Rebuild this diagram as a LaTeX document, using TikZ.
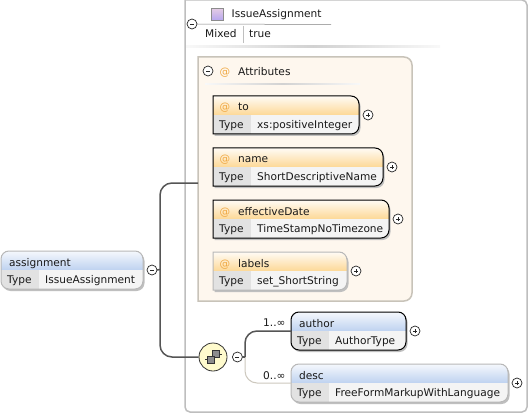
\documentclass[tikz,border=0pt]{standalone}
\usepackage{fontspec}
\setmainfont{DejaVu Sans}
\usetikzlibrary{positioning}

\definecolor{framegray}{RGB}{190,190,190}
\definecolor{darkline}{RGB}{85,85,85}
\definecolor{paleline}{RGB}{205,200,190}
\definecolor{attrfill}{RGB}{254,247,238}
\definecolor{attredge}{RGB}{200,195,185}
\definecolor{blueh}{RGB}{190,210,240}
\definecolor{orangeh}{RGB}{253,216,150}
\definecolor{typecell}{RGB}{226,226,226}
\definecolor{valuecell}{RGB}{244,244,244}
\definecolor{seqfill}{RGB}{255,251,205}
\definecolor{attext}{RGB}{240,170,70}

\tikzset{
  boxanchor/.style={minimum height=38pt,inner sep=0pt,outer sep=0pt,anchor=north west},
  boxtext/.style={inner sep=0pt,anchor=base west,font=\fontsize{10.6}{12}\selectfont,text=black!90},
  attag/.style={inner sep=0pt,anchor=base,font=\fontsize{10.6}{12}\selectfont,text=attext},
  bluehead/.style={top color=white!85!blueh,bottom color=blueh},
  orangehead/.style={top color=white!90!orangeh,bottom color=orangeh},
  activeedge/.style={draw=black,line width=1pt},
  idleedge/.style={draw=black!28,line width=1pt},
  conn/.style={line width=1.5pt,draw=darkline,rounded corners=12pt},
  paleconn/.style={line width=1pt,draw=paleline,rounded corners=12pt},
  signmark/.style={circle,draw=black!85,fill=white,line width=.7pt,minimum size=10pt,inner sep=0pt,outer sep=0pt},
  minusmark/.style={signmark,path picture={
    \draw[line width=.6pt] ([xshift=-2pt]path picture bounding box.center) -- ([xshift=2pt]path picture bounding box.center);}},
  plusmark/.style={signmark,path picture={
    \draw[line width=.6pt] ([xshift=-2pt]path picture bounding box.center) -- ([xshift=2pt]path picture bounding box.center);
    \draw[line width=.6pt] ([yshift=-2pt]path picture bounding box.center) -- ([yshift=2pt]path picture bounding box.center);}},
  fadeline/.style={left color=framegray!10,right color=framegray!10,middle color=framegray!70,draw=none},
}

% outline of a box, #2 is the radius of its left corners
\newcommand{\boxoutline}[2]{[rounded corners=#2] (#1.west) -- (#1.north west) [rounded corners=8pt] -- (#1.north east) -- (#1.south east) [rounded corners=#2] -- (#1.south west) -- cycle}

% id, x, y, width, left radius, head style, edge style, type
\newcommand{\basebox}[8]{
  \node[boxanchor,minimum width=#4pt] (#1shadow) at (#2+1.5,#3+2) {};
  \fill[black!25] \boxoutline{#1shadow}{#5};
  \node[boxanchor,minimum width=#4pt] (#1) at (#2,#3) {};
  \begin{scope}
    \clip \boxoutline{#1}{#5};
    \fill[#6] (#1.north west) rectangle (#1.east);
    \fill[valuecell] (#1.west) rectangle (#1.south east);
    \fill[typecell] (#1.west) rectangle ([xshift=38pt]#1.south west);
  \end{scope}
  \draw[#7] \boxoutline{#1}{#5};
  \node[boxtext] (#1type) at ([shift={(6pt,5.5pt)}]#1.south west) {Type};
  \node[boxtext] (#1value) at ([shift={(44pt,5.5pt)}]#1.south west) {#8};
}
\newcommand{\attrbox}[7]{
  \basebox{#1}{#2}{#3}{#4}{0pt}{orangehead}{#5}{#7}
  \node[attag] (#1at) at ([shift={(12pt,-15pt)}]#1.north west) {@};
  \node[boxtext] (#1name) at ([shift={(25pt,-15pt)}]#1.north west) {#6};
  \node[plusmark,right=4pt of #1] (#1plus) {};
}
\newcommand{\elembox}[7]{
  \basebox{#1}{#2}{#3}{#4}{8pt}{bluehead}{#5}{#7}
  \node[boxtext] (#1name) at ([shift={(8pt,-15pt)}]#1.north west) {#6};
}

\begin{document}
\begin{tikzpicture}[x=1pt,y=-1pt]
  \useasboundingbox (0,0) rectangle (532,414);
  \fill[white] (0,0) rectangle (532,414);

  % type frame
  \draw[framegray,line width=1.5pt,rounded corners=5pt] (185,-4) -- (185,412) -- (527,412) -- (527,0) -- (185,0);
  \node[minimum size=12pt,inner sep=0pt,draw=black!45,top color=black!5!violet!20,bottom color=violet!35!blue!35] (swatch) at (217,14.5) {};
  \node[boxtext] (typename) at (231.5,18) {IssueAssignment};
  \node[minusmark] (typeminus) at (192,24) {};
  \draw[black!50,line width=.5pt] (typeminus.east) -- (331,24.5);
  \draw[black!25,line width=.5pt] (243,26) -- (243,43);
  \node[boxtext] (mixed) at (205,38) {Mixed};
  \node[boxtext] (mixedval) at (249,38) {true};
  \fill[fadeline] (186,46) rectangle (440,48);

  % attributes
  \node[minimum width=214pt,minimum height=244pt,inner sep=0pt,outer sep=0pt,anchor=north west] (attrs) at (198,57) {};
  \draw[attredge,fill=attrfill,line width=1.5pt] [rounded corners=0pt] (attrs.west) -- (attrs.north west) [rounded corners=8pt] -- (attrs.north east) -- (attrs.south east) [rounded corners=0pt] -- (attrs.south west) -- cycle;
  \node[minusmark] (attrminus) at (208,71) {};
  \node[attag] (attrat) at (225,75.5) {@};
  \node[boxtext] (attrtitle) at (238,75.5) {Attributes};
  \fill[fadeline] (205,83.5) rectangle (360,85);

  \attrbox{to}{213}{96}{146}{activeedge}{to}{xs:positiveInteger}
  \attrbox{name}{213}{148}{170}{activeedge}{name}{ShortDescriptiveName}
  \attrbox{date}{213}{200}{176}{activeedge}{effectiveDate}{TimeStampNoTimezone}
  \attrbox{labels}{213}{252}{134}{idleedge}{labels}{set\_ShortString}

  % root element
  \elembox{assignment}{1}{251}{142}{idleedge}{assignment}{IssueAssignment}
  \node[minusmark,right=4pt of assignment] (rootminus) {};

  % sequence
  \node[circle,draw=black!80,fill=seqfill,line width=.8pt,minimum size=28pt,inner sep=0pt] (seq) at (213,357) {};
  \draw[black!80,line width=.6pt] (seq.center) ++(-8,2.5) -- ++(4,0) (seq.center) ++(3,-2.5) -- ++(6,0);
  \node[minimum size=7pt,inner sep=0pt,draw=black!80,fill=black!45] (seqback) at (215.5,354) {};
  \node[minimum size=7pt,inner sep=0pt,draw=black!80,fill=black!45] (seqfront) at (210.5,360) {};
  \node[minusmark,right=5pt of seq] (seqminus) {};

  \elembox{author}{291}{312}{115}{activeedge}{author}{AuthorType}
  \elembox{desc}{291}{364}{217}{idleedge}{desc}{FreeFormMarkupWithLanguage}
  \node[plusmark,right=4pt of author] (authorplus) {};
  \node[plusmark,right=4pt of desc] (descplus) {};

  % connectors
  \coordinate (rootjoin) at (160,269.5);
  \coordinate (attrjoin) at (198,183);
  \coordinate (seqjoin) at (245,357);
  \draw[conn,rounded corners=0pt] (rootminus.east) -- (rootjoin);
  \draw[conn] (attrjoin) -| (rootjoin) |- (seq.west);
  \draw[paleconn] (seqjoin) |- (desc.west);
  \draw[conn] (seqjoin) |- (author.west);
  \draw[conn,rounded corners=0pt] (seqminus.east) -- (seqjoin);
  \node[boxtext] (authorocc) at (263,326) {1..∞};
  \node[boxtext] (descocc) at (263,379) {0..∞};
\end{tikzpicture}
\end{document}
